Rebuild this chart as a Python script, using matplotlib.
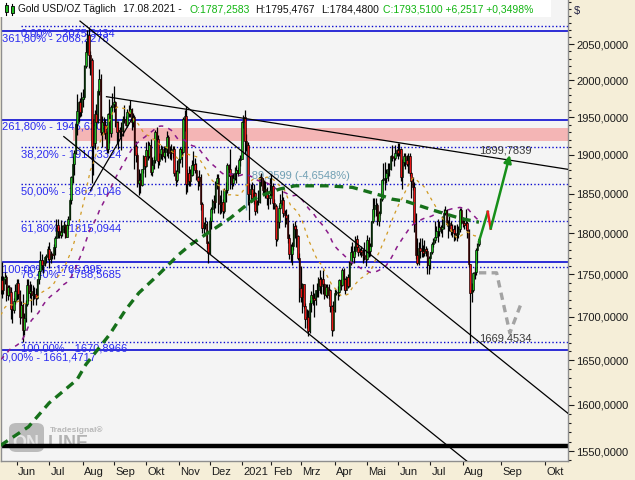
import matplotlib

matplotlib.use("Agg")
import matplotlib.pyplot as plt  # noqa: E402
import numpy as np  # noqa: E402
import pandas as pd  # noqa: E402
from matplotlib.patches import FancyBboxPatch, Rectangle  # noqa: E402
from matplotlib.ticker import FixedLocator, FuncFormatter, NullFormatter  # noqa: E402
from matplotlib.transforms import ScaledTranslation  # noqa: E402

plt.rcParams["font.family"] = ["Liberation Sans", "DejaVu Sans"]

# closes before the visible range, only used to warm up the averages (19.02.-14.05.2020)
warmup_close = [1611, 1620, 1643, 1659, 1635, 1641, 1643, 1585,
                1595, 1640, 1637, 1669, 1673, 1679, 1649, 1635, 1576, 1530, 1514, 1526, 1477,
                1469, 1499, 1554, 1617, 1612, 1631, 1618, 1622, 1577,
                1591, 1613, 1620, 1664, 1647, 1646, 1682, 1684, 1714, 1727, 1716, 1717, 1683,
                1694, 1687, 1714, 1730, 1728, 1712, 1707, 1713, 1687,
                1700, 1702, 1705, 1686, 1725, 1703, 1697, 1702, 1715, 1731]

# daily bars 15.05.2020 - 17.08.2021 (open = previous close)
close_may20 = [1743, 1732, 1745, 1747, 1725, 1735, 1729, 1709, 1708, 1718, 1730]
high_may20 = [1748, 1765, 1748, 1753, 1749, 1737, 1737, 1735, 1715, 1722, 1738]
low_may20 = [1727, 1722, 1727, 1738, 1718, 1720, 1724, 1697, 1693, 1704, 1715]

close_jun20 = [1740, 1727, 1699, 1714, 1685, 1698, 1715, 1737, 1728, 1730, 1726, 1727, 1727, 1722,
               1744, 1754, 1768, 1762, 1764, 1771, 1772, 1781]
high_jun20 = [1745, 1745, 1731, 1718, 1727, 1704, 1720, 1745, 1745, 1742, 1739, 1737, 1735, 1734,
              1745, 1758, 1779, 1775, 1768, 1772, 1775, 1785]
low_jun20 = [1720, 1721, 1692, 1698, 1671, 1679, 1694, 1713, 1718, 1722, 1705, 1714, 1721, 1714,
             1721, 1738, 1750, 1755, 1752, 1760, 1764, 1768]

close_jul20 = [1769, 1775, 1774, 1783, 1795, 1810, 1803, 1798, 1802, 1809, 1810, 1796, 1810, 1818,
               1842, 1871, 1888, 1902, 1941, 1958, 1970, 1957, 1975]
high_jul20 = [1789, 1779, 1776, 1787, 1797, 1818, 1818, 1808, 1817, 1810, 1815, 1812, 1812, 1822,
              1844, 1873, 1898, 1906, 1945, 1981, 1972, 1976, 1984]
low_jul20 = [1758, 1764, 1769, 1769, 1774, 1794, 1795, 1795, 1795, 1797, 1801, 1795, 1796, 1805,
             1817, 1837, 1864, 1874, 1901, 1926, 1944, 1950, 1952]

close_aug20 = [1977, 2019, 2039, 2063, 2035, 2028, 1912, 1916, 1954, 1944, 1985, 2002, 1930, 1944,
               1940, 1929, 1907, 1954, 1929, 1964, 1968]
high_aug20 = [1988, 2021, 2055, 2070, 2075, 2040, 2031, 1947, 1959, 1967, 1988, 2015, 2008, 1951,
              1950, 1948, 1932, 1955, 1975, 1966, 1983]
low_aug20 = [1964, 1975, 2017, 2036, 2017, 2007, 1863, 1874, 1907, 1935, 1942, 1980, 1926, 1910,
             1928, 1921, 1902, 1902, 1915, 1923, 1958]

close_sep20 = [1970, 1944, 1930, 1933, 1932, 1931, 1947, 1947, 1940, 1957, 1955, 1961, 1944, 1950,
               1912, 1900, 1863, 1868, 1861, 1881, 1898, 1886]
high_sep20 = [1992, 1972, 1945, 1945, 1937, 1943, 1951, 1966, 1952, 1961, 1966, 1973, 1962, 1955,
              1953, 1918, 1903, 1881, 1876, 1882, 1900, 1899]
low_sep20 = [1957, 1937, 1916, 1907, 1923, 1906, 1925, 1942, 1938, 1937, 1950, 1950, 1933, 1937,
             1882, 1891, 1859, 1848, 1851, 1860, 1876, 1871]

close_oct20 = [1906, 1899, 1913, 1878, 1887, 1893, 1930, 1921, 1892, 1901, 1908, 1899, 1904, 1907,
               1924, 1904, 1902, 1902, 1908, 1877, 1868, 1879]
high_oct20 = [1917, 1918, 1917, 1921, 1897, 1899, 1933, 1937, 1926, 1903, 1913, 1912, 1912, 1912,
              1932, 1926, 1911, 1914, 1911, 1911, 1880, 1893]
low_oct20 = [1884, 1893, 1896, 1874, 1873, 1881, 1890, 1918, 1883, 1887, 1894, 1893, 1896, 1891,
             1898, 1896, 1894, 1893, 1896, 1873, 1860, 1865]

close_nov20 = [1894, 1908, 1904, 1948, 1951, 1862, 1877, 1866, 1874, 1887, 1888, 1880, 1871, 1866,
               1871, 1837, 1807, 1810, 1812, 1788, 1776]
high_nov20 = [1896, 1910, 1910, 1950, 1960, 1965, 1882, 1885, 1881, 1893, 1905, 1896, 1890, 1872,
              1880, 1875, 1839, 1814, 1820, 1815, 1791]
low_nov20 = [1876, 1890, 1884, 1903, 1931, 1850, 1852, 1860, 1860, 1873, 1874, 1876, 1867, 1855,
             1860, 1829, 1800, 1799, 1805, 1781, 1764]

close_dec20 = [1815, 1830, 1841, 1839, 1863, 1870, 1838, 1837, 1840, 1828, 1855, 1854, 1887, 1881,
               1872, 1863, 1870, 1876, 1880, 1877, 1893, 1895]
high_dec20 = [1820, 1833, 1843, 1848, 1866, 1875, 1875, 1848, 1855, 1843, 1857, 1865, 1890, 1888,
              1907, 1876, 1876, 1884, 1887, 1884, 1896, 1900]
low_dec20 = [1775, 1805, 1826, 1826, 1832, 1856, 1826, 1824, 1825, 1819, 1825, 1840, 1851, 1872,
             1856, 1856, 1860, 1868, 1863, 1872, 1876, 1885]

close_jan21 = [1943, 1950, 1918, 1913, 1849, 1850, 1856, 1845, 1851, 1828, 1840, 1840, 1871, 1870,
               1855, 1856, 1850, 1844, 1844, 1848]
high_jan21 = [1945, 1953, 1959, 1927, 1917, 1864, 1862, 1865, 1862, 1852, 1842, 1855, 1872, 1876,
              1870, 1867, 1866, 1858, 1850, 1870]
low_jan21 = [1895, 1935, 1901, 1905, 1835, 1817, 1842, 1840, 1837, 1823, 1825, 1835, 1838, 1860,
             1850, 1848, 1845, 1836, 1831, 1837]

close_feb21 = [1860, 1838, 1834, 1793, 1814, 1832, 1838, 1842, 1825, 1823, 1819, 1795, 1775, 1775,
               1784, 1809, 1806, 1797, 1770, 1734]
high_feb21 = [1875, 1863, 1843, 1837, 1816, 1835, 1849, 1855, 1846, 1829, 1831, 1824, 1799, 1787,
              1790, 1813, 1816, 1810, 1798, 1776]
low_feb21 = [1847, 1831, 1830, 1785, 1791, 1807, 1830, 1836, 1821, 1808, 1812, 1788, 1769, 1765,
             1761, 1780, 1795, 1783, 1767, 1717]

close_mar21 = [1723, 1738, 1712, 1697, 1700, 1683, 1716, 1726, 1722, 1719, 1731, 1731, 1745, 1736,
               1745, 1738, 1726, 1735, 1726, 1732, 1712, 1685, 1708]
high_mar21 = [1760, 1740, 1739, 1716, 1709, 1708, 1719, 1730, 1739, 1728, 1732, 1740, 1747, 1755,
              1747, 1755, 1740, 1739, 1738, 1738, 1733, 1714, 1718]
low_mar21 = [1717, 1704, 1710, 1687, 1687, 1677, 1681, 1705, 1714, 1699, 1714, 1723, 1723, 1728,
             1727, 1727, 1721, 1723, 1722, 1721, 1705, 1677, 1683]

close_apr21 = [1728, 1729, 1729, 1743, 1737, 1755, 1744, 1732, 1747, 1736, 1764, 1777, 1771, 1779,
               1793, 1783, 1777, 1780, 1777, 1774, 1772, 1769]
high_apr21 = [1733, 1732, 1736, 1745, 1744, 1758, 1758, 1746, 1748, 1750, 1766, 1784, 1790, 1785,
              1797, 1798, 1786, 1782, 1784, 1781, 1790, 1778]
low_apr21 = [1705, 1725, 1720, 1724, 1731, 1736, 1732, 1727, 1731, 1734, 1735, 1761, 1766, 1764,
             1775, 1780, 1772, 1773, 1771, 1764, 1767, 1760]

close_may21 = [1792, 1779, 1785, 1815, 1831, 1836, 1836, 1815, 1826, 1843, 1867, 1869, 1870, 1877,
               1881, 1882, 1898, 1897, 1896, 1903, 1906]
high_may21 = [1798, 1796, 1788, 1816, 1845, 1845, 1844, 1838, 1828, 1845, 1868, 1889, 1891, 1882,
              1890, 1889, 1900, 1913, 1899, 1913, 1908]
low_may21 = [1768, 1771, 1772, 1783, 1813, 1820, 1822, 1811, 1809, 1823, 1841, 1862, 1855, 1863,
             1866, 1873, 1880, 1892, 1885, 1893, 1899]

close_jun21 = [1903, 1908, 1871, 1891, 1899, 1893, 1888, 1898, 1877, 1866, 1859, 1812, 1774, 1764,
               1782, 1778, 1779, 1776, 1781, 1779, 1761, 1770]
high_jun21 = [1916, 1916, 1909, 1895, 1903, 1903, 1900, 1903, 1903, 1878, 1871, 1865, 1825, 1795,
              1789, 1794, 1795, 1786, 1792, 1784, 1782, 1772]
low_jun21 = [1895, 1898, 1866, 1856, 1885, 1881, 1885, 1876, 1873, 1845, 1855, 1802, 1769, 1761,
             1761, 1770, 1771, 1771, 1772, 1772, 1750, 1751]

close_jul21 = [1777, 1787, 1792, 1796, 1803, 1803, 1808, 1806, 1808, 1825, 1829, 1812, 1813, 1810,
               1803, 1806, 1801, 1798, 1799, 1806, 1829, 1814]
high_jul21 = [1777, 1790, 1795, 1815, 1809, 1818, 1815, 1810, 1822, 1830, 1834, 1830, 1817, 1822,
              1816, 1812, 1810, 1810, 1812, 1809, 1832, 1832]
low_jul21 = [1757, 1775, 1783, 1788, 1795, 1790, 1797, 1800, 1796, 1806, 1823, 1809, 1795, 1803,
             1798, 1796, 1791, 1792, 1791, 1795, 1802, 1812]

close_aug21 = [1813, 1810, 1813, 1804, 1763, 1728, 1731, 1752, 1753, 1780, 1787.2583, 1793.51]
high_aug21 = [1820, 1817, 1831, 1816, 1806, 1763, 1740, 1753, 1759, 1782, 1788, 1795.4767]
low_aug21 = [1808, 1805, 1806, 1794, 1759, 1669.4534, 1717, 1729, 1745, 1749, 1764, 1784.48]

# 200-day average at a few dates
ma200_dates = ["2020-05-15", "2020-06-11", "2020-07-01", "2020-07-28", "2020-08-05", "2020-08-27",
               "2020-09-11", "2020-09-24", "2020-10-14", "2020-11-02", "2020-11-12", "2020-11-24",
               "2020-12-08", "2020-12-21", "2021-01-04", "2021-01-15", "2021-01-28", "2021-02-09",
               "2021-02-23", "2021-03-25", "2021-04-19", "2021-05-14", "2021-05-26", "2021-06-09",
               "2021-07-05", "2021-07-29", "2021-08-17"]
ma200_vals = [1556, 1576, 1602, 1628, 1645, 1679, 1708, 1728, 1751, 1774, 1786, 1796, 1808, 1819,
              1831, 1844, 1851, 1856, 1860, 1860, 1858, 1848, 1843, 1840, 1829, 1819, 1814]

# Fibonacci tools
ext_levels = [2068.2278, 1946.6203, 1765.095, 1661.4717]
ext_labels = ["361,80% - 2068,2278", "261,80% - 1946,6203", "100,00% - 1765,095", "0,00% - 1661,4717"]
retr_levels = [2075.3434, 1910.3324, 1862.1046, 1815.0944, 1758.5685, 1670.8966]
retr_labels = ["0,00% - 2075,3434", "38,20% - 1910,3324", "50,00% - 1862,1046",
               "61,80% - 1815,0944", "76,40% - 1758,5685", "100,00% - 1670,8966"]
retr_start = "2020-06-04"
zone = (1918, 1935)
zone_start = "2020-07-23"
support_line = 1555.3

trend_lines = [
    (("2020-07-30", 2083), ("2021-10-17", 1590)),
    (("2020-07-15", 1924), ("2021-08-05", 1539)),
    (("2020-08-25", 1977.5), ("2021-10-17", 1881)),
    (("2020-08-10", 1854), ("2020-09-18", 1950)),
]
measure_date, measure_from, measure_to = "2021-01-07", 1905, 1829
measure_text = "-89,2599 (-4,6548%)"

# projections after the last bar
bull_up = [("2021-08-17", 1790), ("2021-08-23", 1827)]
bull_dip = [("2021-08-23", 1827), ("2021-08-25", 1806)]
bull_target = [("2021-08-25", 1806), ("2021-09-07", 1899.7839)]
bear_path = [("2021-08-17", 1752), ("2021-08-29", 1752), ("2021-09-07", 1681), ("2021-09-15", 1717)]

month_starts = ["2020-06-01", "2020-07-01", "2020-08-01", "2020-09-01", "2020-10-01", "2020-11-01",
                "2020-12-01", "2021-01-01", "2021-02-01", "2021-03-01", "2021-04-01", "2021-05-01",
                "2021-06-01", "2021-07-01", "2021-08-01", "2021-09-01", "2021-10-01"]
month_labels = ["Jun", "Jul", "Aug", "Sep", "Okt", "Nov", "Dez", "2021", "Feb", "Mrz", "Apr", "Mai",
                "Jun", "Jul", "Aug", "Sep", "Okt"]

UP, DOWN = "#1fbd1f", "#e81515"
FIB = "#0a0ad0"
BG, PANEL = "#f4f4f4", "#f5eed8"

# ---------------------------------------------------------------------------
closes = np.array(close_may20 + close_jun20 + close_jul20 + close_aug20 + close_sep20 + close_oct20
                  + close_nov20 + close_dec20 + close_jan21 + close_feb21 + close_mar21 + close_apr21
                  + close_may21 + close_jun21 + close_jul21 + close_aug21, dtype=float)
highs = np.array(high_may20 + high_jun20 + high_jul20 + high_aug20 + high_sep20 + high_oct20
                 + high_nov20 + high_dec20 + high_jan21 + high_feb21 + high_mar21 + high_apr21
                 + high_may21 + high_jun21 + high_jul21 + high_aug21, dtype=float)
lows = np.array(low_may20 + low_jun20 + low_jul20 + low_aug20 + low_sep20 + low_oct20
                + low_nov20 + low_dec20 + low_jan21 + low_feb21 + low_mar21 + low_apr21
                + low_may21 + low_jun21 + low_jul21 + low_aug21, dtype=float)
opens = np.concatenate([[warmup_close[-1]], closes[:-1]])

dates = pd.bdate_range("2020-05-15", "2021-08-17", freq="C",
                       holidays=["2020-12-25", "2021-01-01"])
assert len(dates) == len(closes) == len(highs) == len(lows)
last = dates[-1]


def xpos(d):
    d = pd.Timestamp(d)
    if d <= last:
        return float(dates.searchsorted(d))
    return len(dates) - 1 + (d - last).days  # future: calendar days


def path_xy(pts):
    return [xpos(d) for d, _ in pts], [p for _, p in pts]


full = pd.Series(np.concatenate([warmup_close, closes]))
sma30 = full.rolling(30).mean().to_numpy()[len(warmup_close):]
sma60 = full.rolling(60).mean().to_numpy()[len(warmup_close):]

W, H = 635, 480
fig = plt.figure(figsize=(W / 100, H / 100), dpi=100, facecolor=PANEL)
ax = fig.add_axes([1 / W, 19 / H, 567 / W, 461 / H], facecolor=BG)
x0, x1 = 0.33, 385.5
ax.set_xlim(x0, x1)
ax.set_yscale("log")
ax.set_ylim(1539.4, 2113.4)

# zone + fib lines
ax.fill_between([xpos(zone_start), x1 + 5], zone[0], zone[1], color="#f4b5b5", lw=0, zorder=0.5)
for lvl, lab in zip(ext_levels, ext_labels):
    ax.axhline(lvl, color=FIB, lw=1.2, zorder=1)
    ax.annotate(lab, (0.002, lvl), xycoords=ax.get_yaxis_transform(), xytext=(0, -1.5),
                textcoords="offset points", va="top", ha="left", fontsize=8, color="#2a2af0", zorder=1.5)
xr = xpos(retr_start)
for lvl, lab in zip(retr_levels, retr_labels):
    ax.hlines(lvl, xr, x1 + 5, color=FIB, lw=1.0, linestyles=(0, (1, 1.6)), zorder=1)
    ax.annotate(lab, (xr, lvl), xytext=(0, -1.5), textcoords="offset points", va="top",
                ha="left", fontsize=8, color="#2a2af0", zorder=1.5)
ax.axhline(support_line, color="black", lw=3.2, zorder=1.2)

# measurement
mx = xpos(measure_date)
ax.vlines(mx, measure_to, measure_from, color="#6fa3b8", lw=1, zorder=1.4)
ax.annotate(measure_text, (mx + 1, 1872.6), va="center", ha="left", fontsize=8,
            color="#6f9fb3", zorder=1.5)

# candles
xs = np.arange(len(closes))
up = closes >= opens
ax.vlines(xs, lows, highs, color="black", lw=0.9, zorder=3)
for mask, col in ((up, UP), (~up, DOWN)):
    bot = np.minimum(opens, closes)[mask]
    hgt = np.abs(closes - opens)[mask]
    ax.bar(xs[mask], hgt, bottom=bot, width=1.05, color=col, edgecolor="black", lw=0.45, zorder=3.1)

# averages
ax.plot(xs, sma30, color="#d19a22", lw=0.9, ls=(0, (2.5, 3.5)), zorder=3.5)
ax.plot(xs, sma60, color="#8a1a8a", lw=1.1, ls=(0, (3, 3.5)), zorder=3.5)
ax.plot([xpos(d) for d in ma200_dates], ma200_vals, color="#16701a", lw=2.4,
        ls=(0, (2.6, 1.8)), zorder=3.6)

# trend lines
for (da, pa), (db, pb) in trend_lines:
    ax.plot([xpos(da), xpos(db)], [pa, pb], color="black", lw=0.9, zorder=4)

# projections
bx, by = path_xy(bear_path)
ax.plot(bx, by, color="#a3a3a3", lw=2.4, ls=(0, (2.2, 1.6)), zorder=4.2)
gx, gy = path_xy(bull_up)
ax.plot(gx, gy, color="#17901a", lw=1.8, zorder=4.3)
rx, ry = path_xy(bull_dip)
ax.plot(rx, ry, color="#ee1c1c", lw=1.8, zorder=4.3)
tx, ty = path_xy(bull_target)
ax.annotate("", xy=(tx[1], ty[1]), xytext=(tx[0], ty[0]),
            arrowprops=dict(arrowstyle="-|>", color="#17901a", lw=1.8, mutation_scale=11,
                            shrinkA=0, shrinkB=0), zorder=4.3)
ax.annotate("1899,7839", (xpos(last), bull_target[-1][1]), va="bottom", ha="left", fontsize=8,
            color="#3a3a3a", zorder=4.5)
ax.annotate("1669,4534", (xpos(last), low_aug21[5]), va="bottom", ha="left", fontsize=8,
            color="#3a3a3a", zorder=4.5)

# axes styling
for side in ("left", "right", "bottom"):
    ax.spines[side].set_color("#8e8e8e")
    ax.spines[side].set_linewidth(1)
ax.spines["top"].set_visible(False)

ax.yaxis.tick_right()
ax.yaxis.set_major_locator(FixedLocator(np.arange(1550, 2051, 50)))
ax.yaxis.set_minor_locator(FixedLocator(np.arange(1540, 2111, 10)))
ax.yaxis.set_major_formatter(FuncFormatter(lambda v, _: f"{v:.4f}".replace(".", ",")))
ax.yaxis.set_minor_formatter(NullFormatter())
ax.tick_params(axis="y", which="major", length=4, width=0.8, colors="#1c1c1c", labelsize=8, pad=2)
ax.tick_params(axis="y", which="minor", length=2, width=0.8, colors="#1c1c1c")

ax.set_xticks([xpos(d) for d in month_starts])
ax.set_xticklabels(month_labels)
ax.tick_params(axis="x", length=3, width=0.8, colors="#1c1c1c", labelsize=8, pad=1)
shift = ScaledTranslation(1.5 / 100, 0, fig.dpi_scale_trans)
for lbl in ax.get_xticklabels():
    lbl.set_ha("left")
    lbl.set_transform(lbl.get_transform() + shift)


def fxy(px, py):
    return px / W, 1 - py / H


# watermark
wm = FancyBboxPatch(fxy(9, 452), 35 / W, 29 / H, boxstyle="round,pad=0,rounding_size=0.012",
                    transform=fig.transFigure, fc="#a9a9a9", ec="none", alpha=0.75, zorder=0.6)
ax.add_patch(wm)
ax.text(*fxy(26, 444), "ON", transform=fig.transFigure, ha="center", va="center", fontsize=13,
        fontweight="bold", color="#e6e6e6", zorder=0.7)
ax.text(*fxy(48, 444), "LINE", transform=fig.transFigure, ha="left", va="center", fontsize=13,
        fontweight="bold", color="#b2b2b2", zorder=0.7)
ax.text(*fxy(50, 430), "Tradesignal®", transform=fig.transFigure, ha="left", va="center",
        fontsize=6, fontweight="bold", color="#b8b8b8", zorder=0.7)

# header strip
fig.patches.append(Rectangle(fxy(0, 17), 551 / W, 17 / H, transform=fig.transFigure,
                             fc="white", ec="none", zorder=2))
for cx, top, bot, btop, bbot, col in ((6, 3, 15, 5, 12, "#1fbd1f"), (12, 4, 15, 6, 13, "#1fbd1f")):
    fig.add_artist(plt.Line2D([cx / W, cx / W], [1 - top / H, 1 - bot / H], color="black",
                              lw=0.8, transform=fig.transFigure, zorder=3))
    fig.patches.append(Rectangle(fxy(cx - 1.5, bbot), 3 / W, (bbot - btop) / H, fc=col, ec="black",
                                 lw=0.6, transform=fig.transFigure, zorder=3.1))
head = [(18, "Gold USD/OZ Täglich", "#111111"), (123, "17.08.2021 -", "#111111"),
        (189, "O:1787,2583", "#10b510"), (255, "H:1795,4767", "#111111"),
        (321, "L:1784,4800", "#111111"), (383, "C:1793,5100 +6,2517 +0,3498%", "#10b510")]
for px, s, col in head:
    fs = 7.3 if px == 18 else 7.5
    fig.text(*fxy(px, 9), s, ha="left", va="center", fontsize=fs, color=col, zorder=4)
fig.text(*fxy(574, 11), "$", ha="left", va="center", fontsize=8, color="#1c1c40")

fig.savefig("out.png", dpi=100, facecolor=PANEL)
